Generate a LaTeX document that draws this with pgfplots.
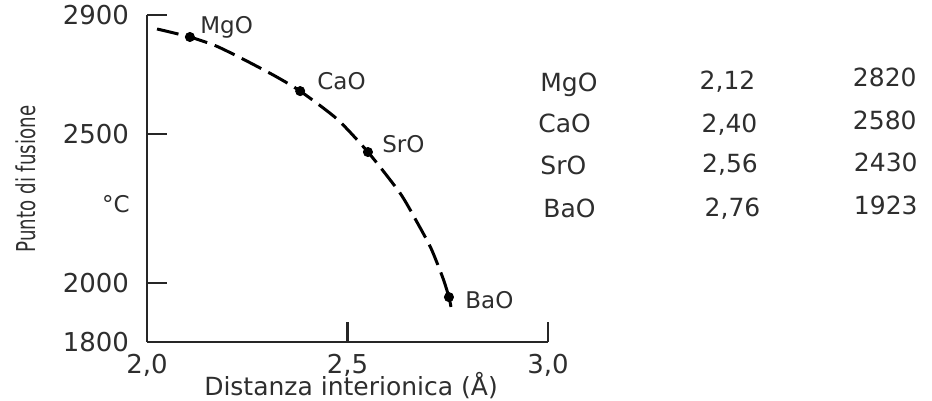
\documentclass[border=0pt]{standalone}
\usepackage{pgfplots}
\pgfplotsset{compat=1.18}
\usepackage{fontspec}
\setmainfont{DejaVu Sans}
\newfontfamily\ylabfont[FakeStretch=0.7]{DejaVu Sans}
\definecolor{txt}{HTML}{2E2E2E}
\begin{document}
\begin{tikzpicture}
\useasboundingbox (-73.5pt,-29.5pt) rectangle (392.5pt,171pt);
\begin{axis}[
  at={(0,0)}, anchor=south west,
  scale only axis, width=200.5pt, height=163.5pt,
  xmin=2, xmax=3, ymin=1800, ymax=2900,
  axis x line*=bottom, axis y line*=left,
  axis line style={line width=1pt, black!85},
  xtick={2,2.5,3}, xticklabels={{2,0},{2,5},{3,0}},
  ytick={1800,2000,2500,2900}, yticklabels={1800,2000,2500,2900},
  tick align=inside, major tick length=10pt,
  tick style={line width=1pt, black!85},
  /pgf/number format/assume math mode=true,
  ticklabel style={font=\fontsize{13}{15}\selectfont, text=txt},
  yticklabel style={xshift=-5.5pt},
  xticklabel style={yshift=-2.5pt},
  clip=false,
]
\addplot[smooth, tension=0.4, line width=1.5pt, black, dash pattern=on 11pt off 4pt] coordinates {
 (2.025,2853) (2.107,2826) (2.172,2796) (2.239,2752) (2.319,2695) (2.382,2644)
 (2.474,2550) (2.551,2439) (2.631,2301) (2.673,2204) (2.708,2116) (2.738,2015)
 (2.753,1951) (2.758,1918)
};
\addplot[only marks, mark=*, mark size=2.3pt, black] coordinates {
 (2.107,2826) (2.382,2644) (2.551,2439) (2.753,1951)
};
\begin{scope}[every node/.style={anchor=base west, inner sep=0pt, text=txt, font=\fontsize{11.5}{13}\selectfont}]
\node at (axis cs:2.132,2839) {MgO};
\node at (axis cs:2.424,2648) {CaO};
\node at (axis cs:2.586,2436) {SrO};
\node at (axis cs:2.793,1914) {BaO};
\end{scope}
\end{axis}
\node[rotate=90, text=txt, font=\ylabfont\fontsize{13}{15}\selectfont] at (-60.5pt,81.5pt) {Punto di fusione};
\node[anchor=base, inner sep=0pt, text=txt, font=\fontsize{11.5}{13}\selectfont] at (-15.5pt,64.5pt) {°C};
\node[text=txt, font=\fontsize{12.5}{14}\selectfont] at (102pt,-22pt) {Distanza interionica (Å)};
\begin{scope}[every node/.style={inner sep=0pt, text=txt, font=\fontsize{12.5}{14}\selectfont}]
\node[anchor=base west] at (196.5pt,125pt) {MgO};
\node[anchor=base west] at (195.5pt,104.5pt) {CaO};
\node[anchor=base west] at (196.5pt,83.5pt) {SrO};
\node[anchor=base west] at (198pt,62pt) {BaO};
\node[anchor=base] at (290.25pt,126pt) {2,12};
\node[anchor=base] at (291.25pt,104.5pt) {2,40};
\node[anchor=base] at (291.5pt,84.5pt) {2,56};
\node[anchor=base] at (292.75pt,62.5pt) {2,76};
\node[anchor=base east] at (385pt,127.5pt) {2820};
\node[anchor=base east] at (385pt,106pt) {2580};
\node[anchor=base east] at (385.5pt,85pt) {2430};
\node[anchor=base east] at (385.5pt,63.5pt) {1923};
\end{scope}
\end{tikzpicture}
\end{document}
